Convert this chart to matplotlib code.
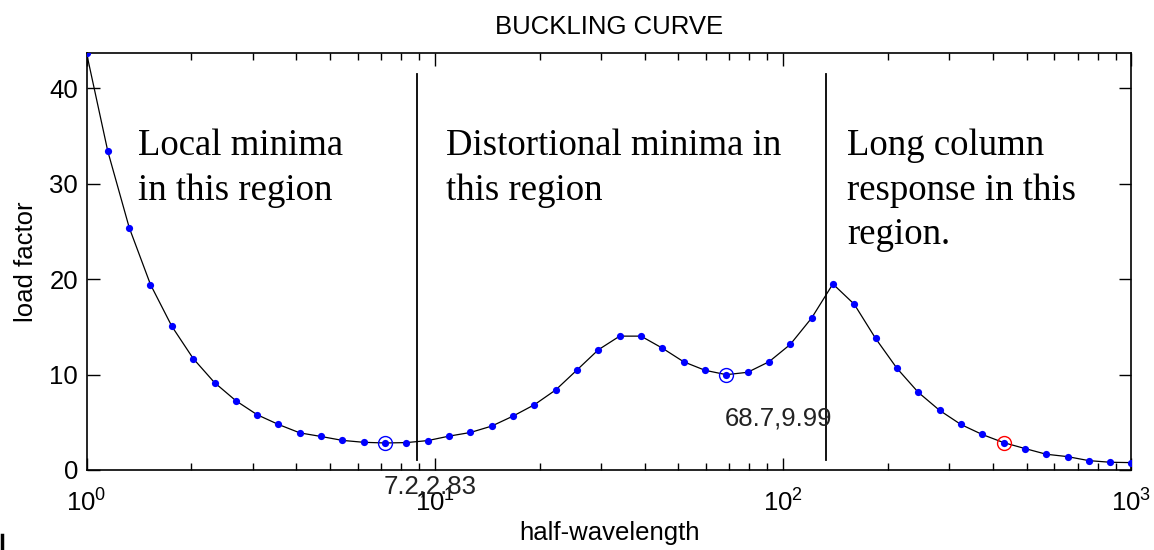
import matplotlib
matplotlib.use("Agg")
import matplotlib.pyplot as plt
from matplotlib.lines import Line2D

plt.rcParams["font.family"] = ["Liberation Sans", "DejaVu Sans"]
plt.rcParams["mathtext.fontset"] = "custom"
plt.rcParams["mathtext.rm"] = "Liberation Sans"
plt.rcParams["mathtext.it"] = "Liberation Sans"

# half-wavelength samples and load factor
half_wavelength = [
    1.000, 1.151, 1.326, 1.526, 1.758, 2.024, 2.330, 2.683, 3.089, 3.556,
    4.095, 4.715, 5.429, 6.251, 7.197, 8.286, 9.541, 10.99, 12.65, 14.56,
    16.77, 19.31, 22.23, 25.60, 29.47, 33.93, 39.07, 44.99, 51.79, 59.64,
    68.66, 79.06, 91.03, 104.8, 120.7, 138.9, 160.0, 184.2, 212.1, 244.2,
    281.2, 323.7, 372.8, 429.3, 494.2, 569.0, 655.1, 754.3, 868.5, 1000.0,
]
load_factor = [
    43.7, 33.4, 25.4, 19.44, 15.05, 11.68, 9.16, 7.26, 5.79, 4.77,
    3.89, 3.51, 3.10, 2.90, 2.83, 2.87, 3.08, 3.55, 3.93, 4.60,
    5.65, 6.84, 8.39, 10.49, 12.60, 14.03, 14.03, 12.77, 11.34, 10.45,
    9.99, 10.24, 11.34, 13.16, 15.93, 19.50, 17.37, 13.79, 10.66, 8.14,
    6.25, 4.77, 3.72, 2.87, 2.25, 1.65, 1.40, 0.98, 0.81, 0.77,
]

# picked minima (blue) and selected point (red)
minima_x = [7.197, 68.66]
minima_y = [2.83, 9.99]
minima_labels = ["7.2,2.83", "68.7,9.99"]
selected_x = [429.3]
selected_y = [2.87]

# region dividers and region notes
divider_x = [8.91, 133.0]
divider_y = (1.0, 41.5)
region_x = [1.406, 10.77, 152.5]
region_text = [
    "Local minima\nin this region",
    "Distortional minima in\nthis region",
    "Long column\nresponse in this\nregion.",
]

fig = plt.figure(figsize=(11.54, 5.5), dpi=100)
ax = fig.add_axes([0.075, 0.1455, 0.9055, 0.758])

ax.plot(half_wavelength, load_factor, color="black", lw=0.9, zorder=2)
ax.plot(half_wavelength, load_factor, "o", color="#0000ff", ms=5.2, mew=0, zorder=3)
ax.plot(minima_x, minima_y, "o", ms=10, mfc="none", mec="#0000ff", mew=1.0, zorder=4)
ax.plot(selected_x, selected_y, "o", ms=10, mfc="none", mec="#ff0000", mew=1.0, zorder=4)

for xv in divider_x:
    ax.plot([xv, xv], divider_y, color="black", lw=1.3, zorder=1)

for xv, yv, lab in zip(minima_x, minima_y, minima_labels):
    ax.annotate(lab, (xv, yv), xytext=(-1, -23), textcoords="offset points",
                ha="left", va="top", fontsize=18.5, color="#222222")

for xv, txt in zip(region_x, region_text):
    ax.text(xv, 35.8, txt, family="Liberation Serif", fontsize=26.5,
            ha="left", va="top", linespacing=1.38)

ax.set_xscale("log")
ax.set_xlim(1, 1000)
ax.set_ylim(0, 43.7)
ax.set_yticks([0, 10, 20, 30, 40])
ax.tick_params(which="both", direction="in", top=True, right=True,
               labelsize=18.5, width=1.0)
ax.tick_params(which="major", length=9)
ax.tick_params(which="minor", length=5)
ax.tick_params(axis="x", pad=14)
ax.tick_params(axis="y", pad=6)
for s in ax.spines.values():
    s.set_linewidth(1.2)

ax.set_title("BUCKLING CURVE", fontsize=18.5, pad=14)
ax.set_xlabel("half-wavelength", fontsize=18.5, labelpad=3)
ax.set_ylabel("load factor", fontsize=18.5, labelpad=8)

fig.add_artist(Line2D([0.002, 0.002], [0.0, 0.027], color="black", lw=2.5))

fig.savefig("out.png", dpi=100, facecolor="white")
